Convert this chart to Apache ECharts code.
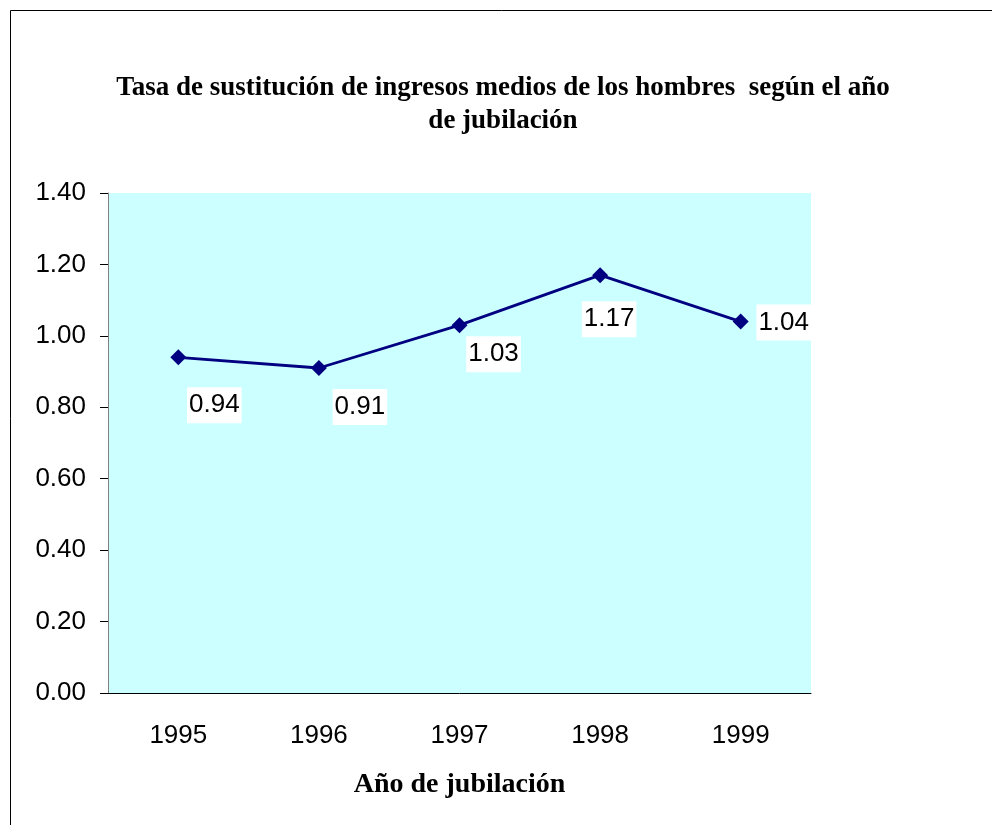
<!DOCTYPE html>
<html>
<head>
<meta charset="utf-8">
<script src="https://cdn.jsdelivr.net/npm/echarts@6/dist/echarts.min.js"></script>
<style>
  html, body { margin: 0; padding: 0; background: #fff; }
  #chart { width: 992px; height: 825px; }
</style>
</head>
<body>
<div id="chart"></div>
<script>
// datos
var years = ['1995', '1996', '1997', '1998', '1999'];
var tasa = [0.94, 0.91, 1.03, 1.17, 1.04];
var yTicks = [0, 0.2, 0.4, 0.6, 0.8, 1.0, 1.2, 1.4];

// desplazamiento de cada etiqueta respecto al punto (estilo, no datos)
var labelOffsets = [[36, 48], [41, 39], [34, 29], [9, 44], [43, 1]];

var myChart = echarts.init(document.getElementById('chart'));

var seriesData = [];
for (var i = 0; i < tasa.length; i++) {
    seriesData.push({
        value: tasa[i],
        label: { offset: labelOffsets[i] }
    });
}

var option = {
    animation: false,
    backgroundColor: '#fff',
    title: {
        text: 'Tasa de sustitución de ingresos medios de los hombres  según el año\nde jubilación',
        left: 498,
        top: 67,
        textAlign: 'center',
        textStyle: {
            fontFamily: 'Liberation Serif',
            fontWeight: 'bold',
            fontSize: 27,
            lineHeight: 33,
            color: '#000'
        }
    },
    graphic: [{
        type: 'rect',
        shape: { x: 10.5, y: 10.5, width: 1100, height: 1000 },
        style: { fill: 'none', stroke: '#000', lineWidth: 1 },
        silent: true
    }],
    grid: {
        left: 108,
        right: 181,
        top: 193,
        bottom: 132,
        show: true,
        backgroundColor: '#CCFFFF',
        borderWidth: 0
    },
    xAxis: {
        type: 'category',
        data: years,
        boundaryGap: true,
        name: 'Año de jubilación',
        nameLocation: 'middle',
        nameGap: 78,
        nameTextStyle: {
            fontFamily: 'Liberation Serif',
            fontWeight: 'bold',
            fontSize: 28,
            color: '#000'
        },
        axisLine: { lineStyle: { color: '#000', width: 1 } },
        axisTick: { length: 8, lineStyle: { color: '#000' } },
        axisLabel: {
            margin: 30,
            fontFamily: 'Liberation Sans',
            fontSize: 26,
            color: '#000'
        },
        splitLine: { show: false }
    },
    yAxis: {
        type: 'value',
        min: 0,
        max: 1.4,
        interval: 0.2,
        axisLine: { show: true, lineStyle: { color: '#808080', width: 1 } },
        axisTick: { show: true, length: 8, lineStyle: { color: '#000' } },
        axisLabel: {
            margin: 22,
            fontFamily: 'Liberation Sans',
            fontSize: 26,
            color: '#000',
            formatter: function (v) { return v.toFixed(2); }
        },
        splitLine: { show: false }
    },
    series: [{
        type: 'line',
        data: seriesData,
        symbol: 'diamond',
        symbolSize: 16,
        itemStyle: { color: '#000080' },
        lineStyle: { color: '#000080', width: 2.8 },
        label: {
            show: true,
            position: 'inside',
            fontFamily: 'Liberation Sans',
            fontSize: 26,
            lineHeight: 30,
            color: '#000',
            backgroundColor: '#fff',
            padding: [3, 2],
            formatter: function (p) { return p.value.toFixed(2); }
        }
    }]
};
myChart.setOption(option);
</script>
</body>
</html>
